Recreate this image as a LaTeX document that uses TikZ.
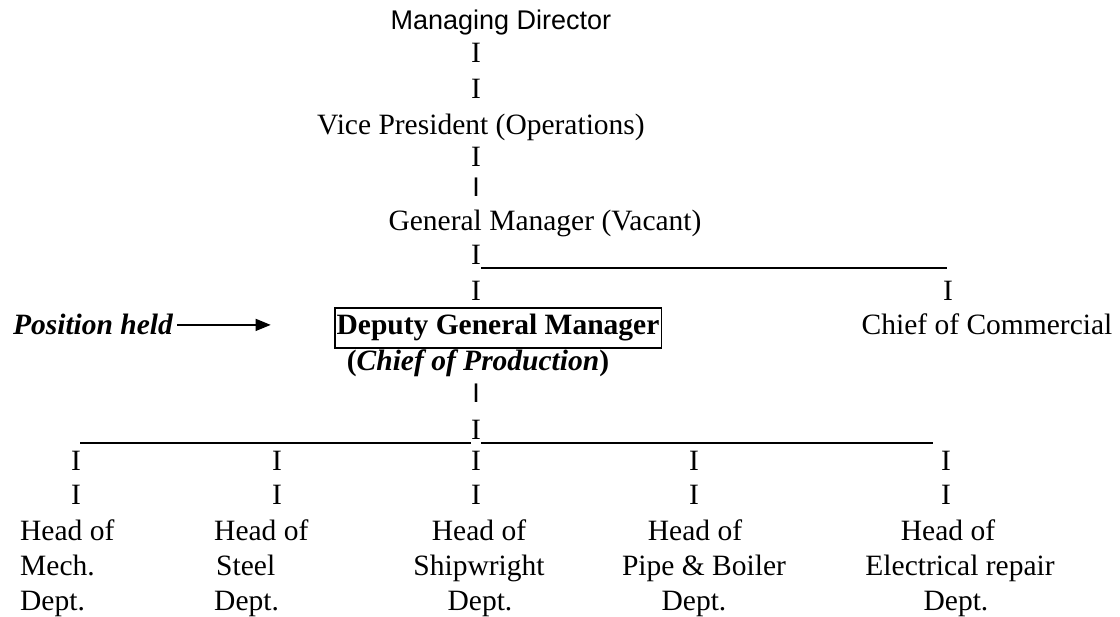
\documentclass[tikz,border=0pt]{standalone}
\usepackage{fontspec}
\setmainfont{Liberation Serif}
\setsansfont{Liberation Sans}
\usetikzlibrary{arrows.meta}

\begin{document}
\begin{tikzpicture}[x=1pt, y=-1pt,
  every node/.style={font=\fontsize{29.5}{34}\selectfont, anchor=base, inner sep=0pt},
  sbar/.style={font=\fontsize{27}{32}\selectfont\sffamily},
  rule/.style={line width=1.6pt},
  pointer/.style={line width=1.3pt, -{Triangle[length=15pt,width=12pt]}}]
\useasboundingbox (0,0) rectangle (1120,617);

% Top of the chain
\node[sbar] (md) at (501,30) {Managing Director};
\node (i1) at (476,63) {I};
\node (i2) at (476,99) {I};
\node (vp) at (481,135) {Vice President (Operations)};
\node (i3) at (476,167) {I};
\node[sbar] (i4) at (476,197) {I};
\node (gm) at (545,231) {General Manager (Vacant)};
\node (i5) at (476,265) {I};
\coordinate (gmend) at (947,268);
\draw[rule] ([yshift=-3pt]i5.base east) -- (gmend);
\node (i6) at (476,301) {I};
\node (i7) at (948,301) {I};

% Position held
\node[font=\fontsize{29.5}{34}\selectfont\bfseries\itshape] (held) at (93,335) {Position held};
\node[draw, line width=1.8pt, inner xsep=2pt, inner ysep=6pt, text height=21pt, text depth=7pt,
  font=\fontsize{29.5}{34}\selectfont\bfseries] (dgm) at (498,335) {Deputy General Manager};
\node (cc) at (987,335) {Chief of Commercial};
\draw[pointer] ([xshift=4pt]held.east) -- ([xshift=-63pt]held.east -| dgm.west);
\node (cp) at (478,371) {\textbf{(}\textbf{\textit{Chief of Production}}\textbf{)}};
\node[sbar] (i8) at (476,403) {I};

% Departments
\node (i9) at (476,440) {I};
\coordinate (lend) at (80,443);
\coordinate (rend) at (933,443);
\draw[rule] (lend) -- ([yshift=-3pt]i9.base west);
\draw[rule] ([yshift=-3pt]i9.base east) -- (rend);
\foreach \n/\x in {a/76, b/277, c/476, d/694, e/946} {
  \node (top\n) at (\x,471) {I};
  \node (bot\n) at (\x,505) {I};
}
\foreach \n/\an/\xa/\xb/\xc/\dept in {mech/base west/20/20/20/Mech., steel/base west/214/216/214/Steel, ship/base/479/479/480/Shipwright, pipe/base/695/704/694/Pipe \& Boiler, elec/base/948/960/956/Electrical repair} {
  \node[anchor=\an] (\n1) at (\xa,540) {Head of};
  \node[anchor=\an] (\n2) at (\xb,576) {\dept};
  \node[anchor=\an] (\n3) at (\xc,610) {Dept.};
}
\end{tikzpicture}
\end{document}
